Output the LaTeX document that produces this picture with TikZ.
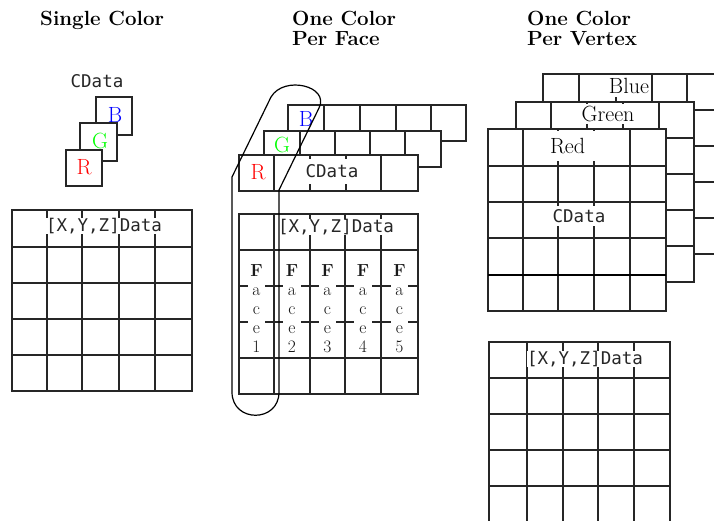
\documentclass[tikz,border=0pt]{standalone}
\usepackage{fontspec}
\newfontfamily\monof{DejaVu Sans Mono}
\tikzset{
  ttl/.style={font=\fontsize{20.5}{19.5}\selectfont\bfseries, align=left, anchor=north west, inner sep=0pt},
  mono/.style={font=\monof\fontsize{17.5}{20}\selectfont, text=black!85},
  wlab/.style={fill=white, inner sep=0pt},
  ltr/.style={font=\fontsize{22}{24}\selectfont},
  face/.style={font=\fontsize{17.5}{19}\selectfont, align=center, fill=white, inner xsep=2.5pt, inner ysep=3pt, text=black!90},
  gl/.style={draw=black!85, line width=1.1pt},
  card/.style={draw=black!85, line width=1.1pt, fill=white},
}
\begin{document}
\begin{tikzpicture}[x=1pt,y=-1pt]
\useasboundingbox (0,0) rectangle (714,520);
\clip (0,0) rectangle (714,520);

% ---------------- Single Color ----------------
\node[ttl] (t1) at (40,11) {Single Color};
\node[mono] (cd1) at (97,81) {CData};
\draw[card] (96,97) rectangle (132,135);
\node[ltr, text=blue] (b1) at (115,115) {B};
\draw[card] (80,123) rectangle (117,161);
\node[ltr, text=green] (g1) at (100,141) {G};
\draw[card] (66,150) rectangle (102,186);
\node[ltr, text=red] (r1) at (84,167) {R};

\draw[gl] (12,210) rectangle (192,391);
\foreach \x in {47,82,119,155} \draw[gl] (\x,210) -- (\x,391);
\foreach \y in {247,283,319,355} \draw[gl] (12,\y) -- (192,\y);
\node[mono, wlab] (xyz1) at (104,226) {[X,Y,Z]Data};

% ---------------- One Color Per Face ----------------
\node[ttl] (t2) at (292,11) {One Color\\Per Face};
% B strip
\draw[card] (288,105) rectangle (466,141);
\foreach \x in {324,360,396,431} \draw[gl] (\x,105) -- (\x,141);
\node[ltr, text=blue] (b2) at (306,119) {B};
% G strip
\draw[card] (264,131) rectangle (441,167);
\foreach \x in {300,335,370,405} \draw[gl] (\x,131) -- (\x,167);
\node[ltr, text=green] (g2) at (282,145) {G};
% R strip
\draw[card] (239,155) rectangle (418,191);
\foreach \x in {274,310,346,381} \draw[gl] (\x,155) -- (\x,191);
\node[ltr, text=red] (r2) at (258,172) {R};
\node[mono, wlab, minimum height=25pt, inner xsep=1pt] (cd2) at (332,171) {CData};

% grid
\draw[gl] (239,214) rectangle (418,394);
\foreach \x in {274,310,345,381} \draw[gl] (\x,214) -- (\x,394);
\foreach \y in {250,286,322,358} \draw[gl] (239,\y) -- (418,\y);
\node[mono, wlab] (xyz2) at (336,227) {[X,Y,Z]Data};
\foreach \x/\n [count=\i] in {256.5/1,292/2,327.5/3,363/4,399.5/5}
  \node[face, anchor=north] (f\i) at (\x,261) {\textbf{F}\\a\\c\\e\\\n};

% loop round the first column
\draw[black, line width=1.2pt]
  (232,392) -- (232,177) -- (271,97)
  .. controls (284,75) and (330,86) .. (319,108)
  -- (279,190) -- (279,392)
  .. controls (279,423) and (232,423) .. (232,392);

% ---------------- One Color Per Vertex ----------------
\node[ttl] (t3) at (527,11) {One Color\\Per Vertex};
% Blue layer
\draw[card] (543,74) rectangle (723,254);
\foreach \x in {579,616,652,687} \draw[gl] (\x,74) -- (\x,254);
\foreach \y in {110,146,182,218} \draw[gl] (543,\y) -- (723,\y);
\node[ltr, wlab, inner xsep=2pt, inner ysep=3pt] (blue) at (629,86) {Blue};
% Green layer
\draw[card] (516,102) rectangle (694,282);
\foreach \x in {551,587,623,659} \draw[gl] (\x,102) -- (\x,282);
\foreach \y in {138,174,210,246} \draw[gl] (516,\y) -- (694,\y);
\node[ltr, wlab, inner xsep=1pt, inner ysep=2pt] (green) at (608,114) {Green};
% Red layer
\draw[card] (488,129) rectangle (666,311);
\foreach \x in {523,558,594,630} \draw[gl] (\x,129) -- (\x,311);
\foreach \y in {166,202,238} \draw[gl] (488,\y) -- (666,\y);
\draw[black, line width=2.2pt] (488,275) -- (666,275);
\node[ltr, wlab, text width=46pt, align=left, minimum height=30pt] (red) at (573,146) {Red};
\node[mono, wlab, minimum height=20pt, inner xsep=1pt] (cd3) at (579,216) {CData};

% bottom grid
\draw[gl] (489,342) rectangle (670,522);
\foreach \x in {527,563,598,634} \draw[gl] (\x,342) -- (\x,522);
\foreach \y in {378,414,450,486} \draw[gl] (489,\y) -- (670,\y);
\node[mono, wlab] (xyz3) at (585,359) {[X,Y,Z]Data};
\end{tikzpicture}
\end{document}
